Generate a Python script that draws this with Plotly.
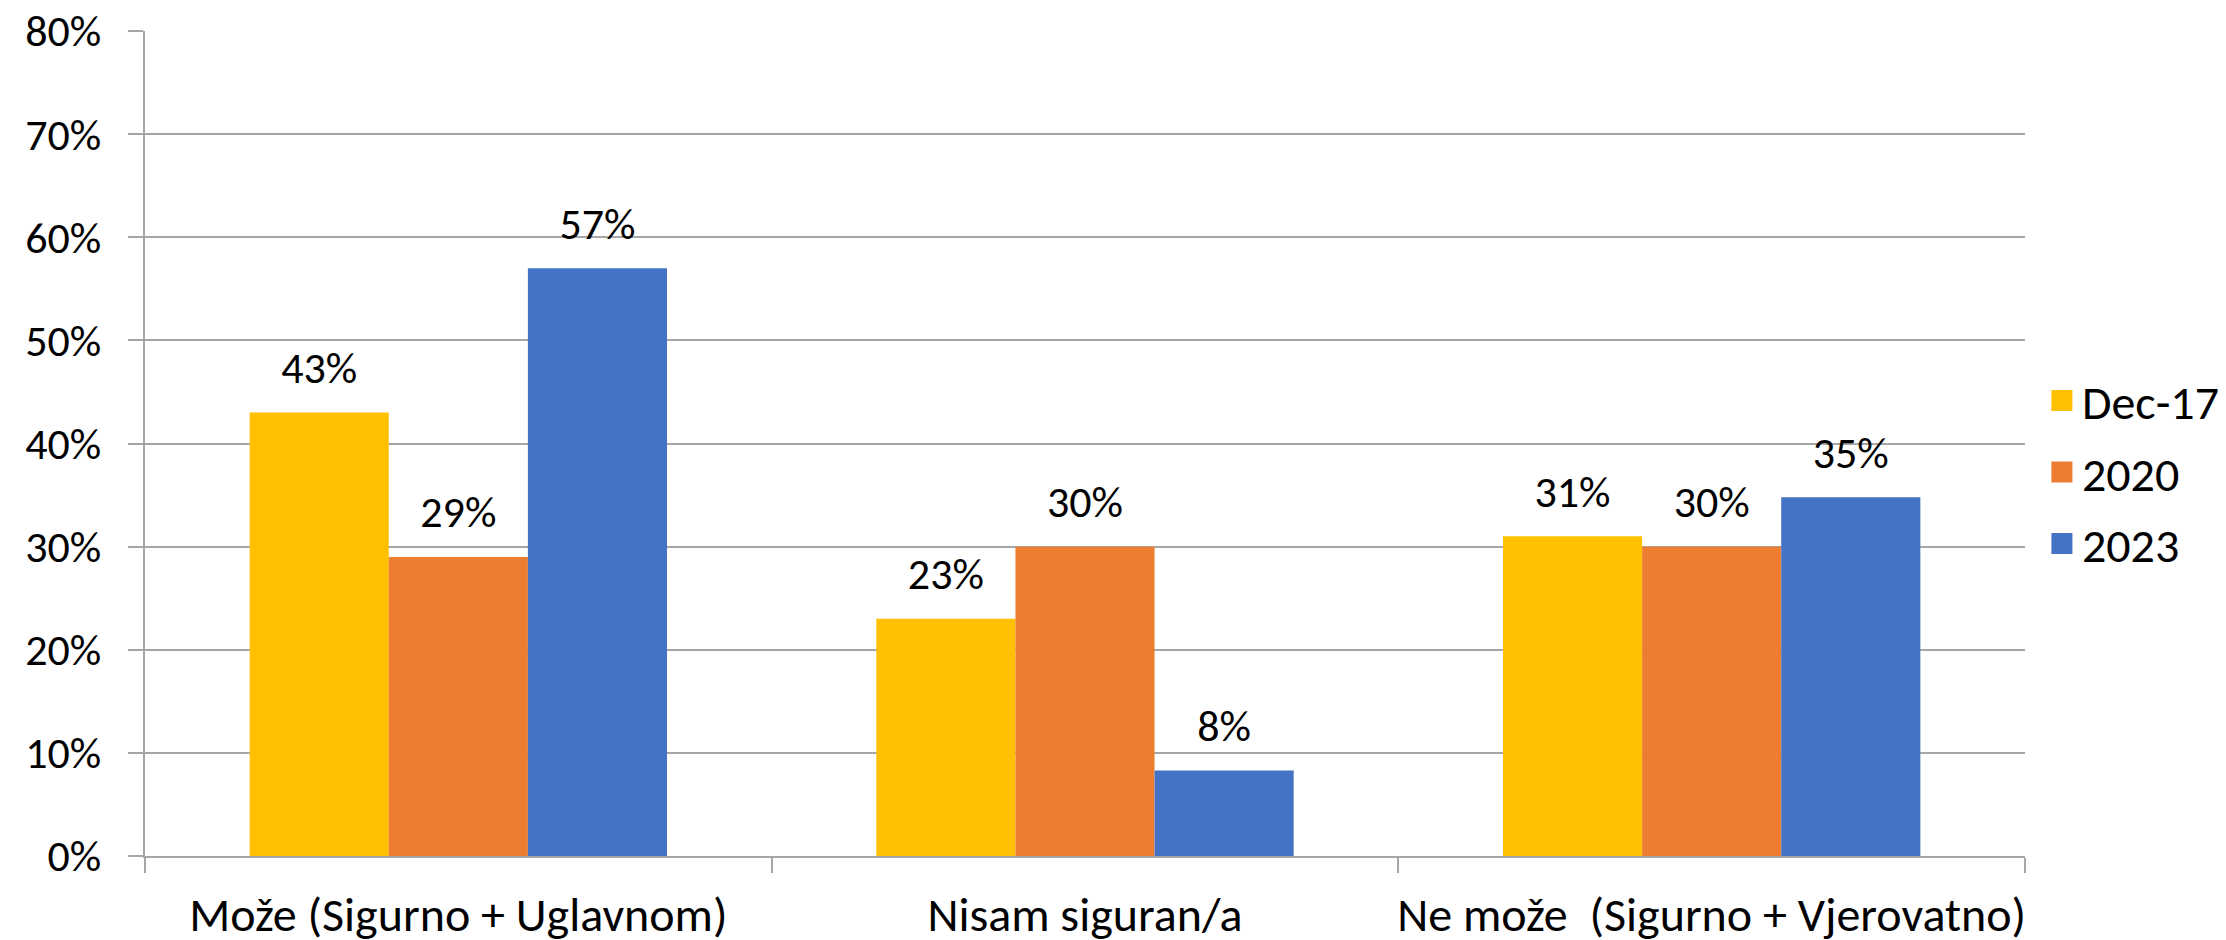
import plotly.graph_objects as go

categories = ["Može (Sigurno + Uglavnom)", "Nisam siguran/a", "Ne može  (Sigurno + Vjerovatno)"]
series_names = ["Dec-17", "2020", "2023"]
dec17 = [0.43, 0.23, 0.31]
y2020 = [0.29, 0.30, 0.30]
y2023 = [0.57, 0.083, 0.348]
colors = ["#FFC000", "#ED7D31", "#4472C4"]
y_ticks = [0, 0.1, 0.2, 0.3, 0.4, 0.5, 0.6, 0.7, 0.8]

FONT = "Carlito, Lato, sans-serif"
FS = 48
FS_NUM = 44
GAP = 0.334

fig = go.Figure()
all_vals = [dec17, y2020, y2023]
for i, (name, vals) in enumerate(zip(series_names, all_vals)):
    fig.add_trace(go.Bar(
        x=categories, y=vals, name=name, marker=dict(color=colors[i], line=dict(width=0)),
        offsetgroup=str(i), alignmentgroup="a", hoverinfo="skip", showlegend=False,
    ))
# legend entries (larger square swatches)
for i, name in enumerate(series_names):
    fig.add_trace(go.Scatter(
        x=[categories[0]], y=[None], mode="markers", name=name,
        marker=dict(symbol="square", size=16, color=colors[i],
                    line=dict(color=colors[i], width=5)),
        offsetgroup=str(i), alignmentgroup="a", orientation="v",
        showlegend=True, legendgroup=name, hoverinfo="skip",
    ))
# value labels
for i, (name, vals) in enumerate(zip(series_names, all_vals)):
    fig.add_trace(go.Scatter(
        x=categories, y=vals, mode="markers+text",
        text=[f"{round(v*100):.0f}%" for v in vals],
        textposition="top center",
        textfont=dict(family=FONT, size=FS_NUM, color="#000000"),
        marker=dict(size=28, opacity=0),
        offsetgroup=str(i), alignmentgroup="a", orientation="v",
        showlegend=False, hoverinfo="skip", cliponaxis=False,
    ))

fig.update_layout(
    width=2226, height=940,
    margin=dict(l=137, r=209, t=23, b=92, autoexpand=False),
    paper_bgcolor="white", plot_bgcolor="white",
    barmode="group", bargap=GAP, bargroupgap=0,
    scattermode="group", scattergap=GAP,
    font=dict(family=FONT, size=FS, color="#000000"),
    legend=dict(x=1.009, xanchor="left", y=0.465, yanchor="middle",
                font=dict(family=FONT, size=FS), tracegroupgap=6,
                bgcolor="rgba(0,0,0,0)", itemsizing="trace"),
    showlegend=True,
)
fig.update_yaxes(
    range=[0, 0.8], tickvals=y_ticks, tickformat=".0%",
    showgrid=True, gridcolor="#A6A6A6", gridwidth=2,
    showline=True, linecolor="#A6A6A6", linewidth=2,
    ticks="outside", ticklen=15, tickcolor="#A6A6A6", tickwidth=2,
    zeroline=False, ticklabelstandoff=18, ticklabeloverflow="allow",
    tickfont=dict(family=FONT, size=FS_NUM), automargin=False,
)
fig.update_xaxes(
    showline=True, linecolor="#A6A6A6", linewidth=2,
    ticks="outside", ticklen=15, tickcolor="#A6A6A6", tickwidth=2,
    tickson="boundaries", showgrid=False, tickangle=0, automargin=False,
    tickfont=dict(family=FONT, size=FS), ticklabelstandoff=15,
)

fig.write_html("out.html")
